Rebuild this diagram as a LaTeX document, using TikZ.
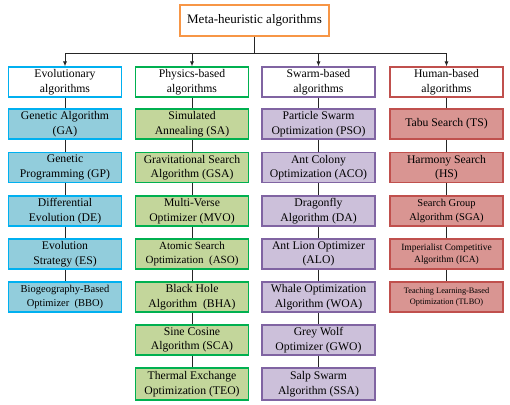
\documentclass[tikz,border=0pt]{standalone}
\usepackage{fontspec}
\setmainfont{Liberation Serif}
\usetikzlibrary{arrows.meta}

\definecolor{metaline}{HTML}{F79646}
\definecolor{evoline}{HTML}{00B0F0}
\definecolor{evofill}{HTML}{92CDDC}
\definecolor{phyline}{HTML}{00B050}
\definecolor{phyfill}{HTML}{C3D69B}
\definecolor{swaline}{HTML}{8064A2}
\definecolor{swafill}{HTML}{CCC0DA}
\definecolor{humline}{HTML}{C0504D}
\definecolor{humfill}{HTML}{D99592}

\tikzset{
  box/.style={draw, line width=1.1pt, minimum width=113pt, minimum height=30pt,
    inner sep=1pt, align=center, font=\fontsize{11.7}{14.5}\selectfont},
  evo/.style={box, draw=evoline, fill=evofill},
  phy/.style={box, draw=phyline, fill=phyfill},
  swa/.style={box, draw=swaline, fill=swafill},
  hum/.style={box, draw=humline, fill=humfill},
  link/.style={line width=0.9pt, black!85},
}

\begin{document}
\begin{tikzpicture}[x=1pt, y=-1pt]
  \useasboundingbox (0,0) rectangle (510,404);

  % root
  \node[box, draw=metaline, fill=white, minimum width=149pt, minimum height=31pt,
        font=\fontsize{13}{15}\selectfont] (meta) at (254.5,20.5) {Meta-heuristic algorithms};
  \coordinate (bus) at (0,53.5);

  % column headers
  \node[box, draw=evoline, fill=white] (evo)   at (65,82)    {Evolutionary\\algorithms};
  \node[box, draw=phyline, fill=white] (phy)   at (192,82)   {Physics-based\\algorithms};
  \node[box, draw=swaline, fill=white] (swa)   at (318.5,82) {Swarm-based\\algorithms};
  \node[box, draw=humline, fill=white] (hum)   at (446.5,82) {Human-based\\algorithms};

  % evolutionary
  \node[evo] (evo1) at (65,124)   {Genetic Algorithm\\(GA)};
  \node[evo] (evo2) at (65,167.5) {Genetic\\Programming (GP)};
  \node[evo] (evo3) at (65,211)   {Differential\\Evolution (DE)};
  \node[evo] (evo4) at (65,254)   {Evolution\\Strategy (ES)};
  \node[evo, font=\fontsize{10.5}{13.5}\selectfont] (evo5) at (65,297) {Biogeography-Based\\Optimizer~~(BBO)};

  % physics-based
  \node[phy] (phy1) at (192,124)   {Simulated\\Annealing (SA)};
  \node[phy] (phy2) at (192,167.5) {Gravitational Search\\Algorithm (GSA)};
  \node[phy] (phy3) at (192,211)   {Multi-Verse\\Optimizer (MVO)};
  \node[phy, font=\fontsize{11}{14}\selectfont] (phy4) at (192,254) {Atomic Search\\Optimization~~(ASO)};
  \node[phy] (phy5) at (192,297)   {Black Hole\\Algorithm~~(BHA)};
  \node[phy] (phy6) at (192,340)   {Sine Cosine\\Algorithm (SCA)};
  \node[phy, minimum height=32pt] (phy7) at (192,384) {Thermal Exchange\\Optimization (TEO)};

  % swarm-based
  \node[swa] (swa1) at (318.5,124)   {Particle Swarm\\Optimization (PSO)};
  \node[swa] (swa2) at (318.5,167.5) {Ant Colony\\Optimization (ACO)};
  \node[swa] (swa3) at (318.5,211)   {Dragonfly\\Algorithm (DA)};
  \node[swa] (swa4) at (318.5,254)   {Ant Lion Optimizer\\(ALO)};
  \node[swa] (swa5) at (318.5,297)   {Whale Optimization\\Algorithm (WOA)};
  \node[swa] (swa6) at (318.5,340)   {Grey Wolf\\Optimizer (GWO)};
  \node[swa, minimum height=32pt] (swa7) at (318.5,384) {Salp Swarm\\Algorithm (SSA)};

  % human-based
  \node[hum] (hum1) at (446.5,124)   {Tabu Search (TS)};
  \node[hum] (hum2) at (446.5,167.5) {Harmony Search\\(HS)};
  \node[hum, font=\fontsize{10.5}{13.5}\selectfont] (hum3) at (446.5,211) {Search Group\\Algorithm (SGA)};
  \node[hum, font=\fontsize{9.5}{12.5}\selectfont] (hum4) at (446.5,254) {Imperialist Competitive\\Algorithm (ICA)};
  \node[hum, font=\fontsize{8.3}{11}\selectfont] (hum5) at (446.5,297) {Teaching Learning-Based\\Optimization (TLBO)};

  % root to headers
  \draw[link] (meta.south) -- (meta.south |- bus);
  \draw[link] (evo.north |- bus) -- (hum.north |- bus);
  \foreach \h in {evo,phy,swa,hum}
    \draw[link, -{Latex[length=5pt,width=4pt]}] (\h.north |- bus) -- (\h.north);

  % columns
  \draw[link] (evo) -- (evo1) -- (evo2) -- (evo3) -- (evo4) -- (evo5);
  \draw[link] (phy) -- (phy1) -- (phy2) -- (phy3) -- (phy4) -- (phy5) -- (phy6) -- (phy7);
  \draw[link] (swa) -- (swa1) -- (swa2) -- (swa3) -- (swa4) -- (swa5) -- (swa6) -- (swa7);
  \draw[link] (hum) -- (hum1) -- (hum2) -- (hum3) -- (hum4) -- (hum5);
\end{tikzpicture}
\end{document}
